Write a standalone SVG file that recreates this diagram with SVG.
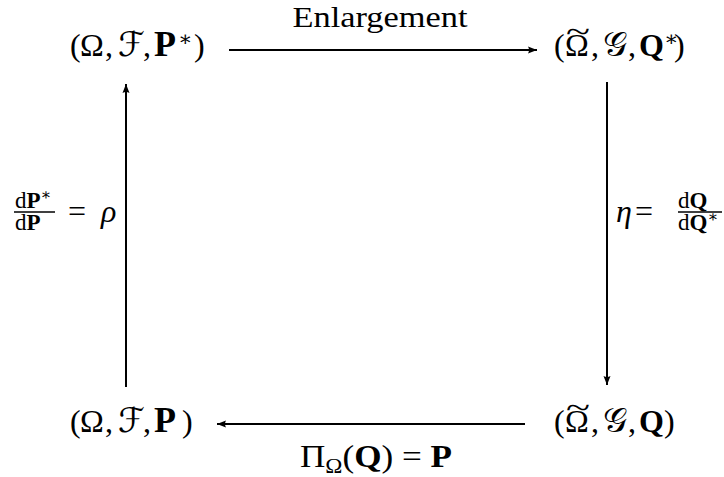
<svg xmlns="http://www.w3.org/2000/svg" width="724" height="477" viewBox="0 0 724 477">
<style>
text{font-family:"Liberation Serif","DejaVu Serif",serif;fill:#000;}
.m{font-size:32px;}
.s{font-size:21px;}
.f{font-size:23px;}
.b{font-weight:bold;}
.bp{font-weight:bold;font-size:36px;}
.i{font-style:italic;}
.c{font-family:"DejaVu Serif","DejaVu Sans","Liberation Serif",serif;font-style:normal;font-size:34px;}
.t{font-size:30px;}
.edge{stroke:#000;stroke-width:2;fill:none;}
.bar{stroke:#000;stroke-width:1.4;}
</style>
<defs>
<marker id="ah" markerUnits="userSpaceOnUse" markerWidth="10" markerHeight="8" refX="9" refY="4" orient="auto">
<path d="M0,0.5 L9,4 L0,7.5 Q2,4 0,0.5 z" fill="#000"/>
</marker>
</defs>
<rect width="724" height="477" fill="#fff"/>
<g id="n1"><text class="m" y="56"><tspan x="70">(</tspan><tspan x="80">Ω</tspan><tspan x="105">,</tspan><tspan x="118" class="c">ℱ</tspan><tspan x="143">,</tspan><tspan x="154" class="bp">P</tspan><tspan x="178" y="46" class="s">∗</tspan><tspan x="194" y="56">)</tspan></text></g>
<g id="n2"><text class="m" y="56"><tspan x="554">(</tspan><tspan x="565">Ω</tspan><tspan x="591">,</tspan><tspan x="603" class="c">𝒢</tspan><tspan x="628">,</tspan><tspan x="639" class="b">Q</tspan><tspan x="664" y="46" class="s">∗</tspan><tspan x="674" y="56">)</tspan></text><text class="t" x="578" y="42" text-anchor="middle" textLength="24" lengthAdjust="spacingAndGlyphs">~</text></g>
<g id="n3"><text class="m" y="432"><tspan x="70">(</tspan><tspan x="80">Ω</tspan><tspan x="105">,</tspan><tspan x="118" class="c">ℱ</tspan><tspan x="143">,</tspan><tspan x="154" class="bp">P</tspan><tspan x="182">)</tspan></text></g>
<g id="n4"><text class="m" y="432"><tspan x="554">(</tspan><tspan x="565">Ω</tspan><tspan x="591">,</tspan><tspan x="603" class="c">𝒢</tspan><tspan x="628">,</tspan><tspan x="639" class="b">Q</tspan><tspan x="664">)</tspan></text><text class="t" x="578" y="418" text-anchor="middle" textLength="24" lengthAdjust="spacingAndGlyphs">~</text></g>
<g id="edges">
<line class="edge" x1="229" y1="50" x2="537" y2="50" marker-end="url(#ah)"/>
<line class="edge" x1="607" y1="82" x2="607" y2="385" marker-end="url(#ah)"/>
<line class="edge" x1="525" y1="424" x2="217" y2="424" marker-end="url(#ah)"/>
<line class="edge" x1="126" y1="387" x2="126" y2="84" marker-end="url(#ah)"/>
</g>
<g id="labels">
<text class="t" x="380" y="27" text-anchor="middle" textLength="175" lengthAdjust="spacingAndGlyphs">Enlargement</text>
<text class="m" x="300" y="467" textLength="152" lengthAdjust="spacingAndGlyphs">Π<tspan class="s" dy="6">Ω</tspan><tspan dy="-6">(</tspan><tspan class="b">Q</tspan>) = <tspan class="b">P</tspan></text>
<text class="f" x="15" y="208">d<tspan class="b">P</tspan><tspan font-size="16" dy="-8">∗</tspan></text>
<line class="bar" x1="14" y1="212" x2="55" y2="212"/>
<text class="f" x="15" y="230">d<tspan class="b">P</tspan></text>
<text class="m" y="222"><tspan x="68">=</tspan><tspan x="101" class="i">ρ</tspan></text>
<text class="m" y="222"><tspan x="616" class="i">η</tspan><tspan x="635">=</tspan></text>
<text class="f" x="678" y="208">d<tspan class="b">Q</tspan></text>
<line class="bar" x1="678" y1="212" x2="722" y2="212"/>
<text class="f" x="678" y="230">d<tspan class="b">Q</tspan><tspan font-size="16" dy="-8">∗</tspan></text>
</g>
</svg>
